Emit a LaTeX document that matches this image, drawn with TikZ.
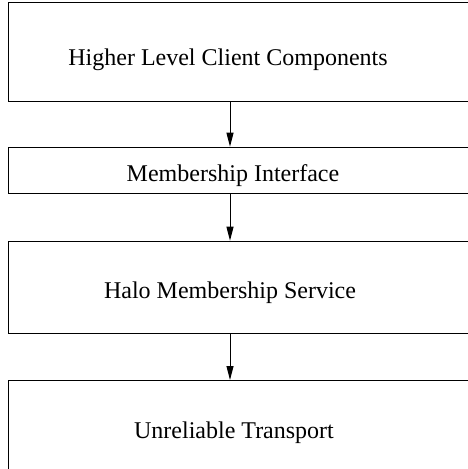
\documentclass[tikz,border=0pt]{standalone}
\usepackage{fontspec}
\setmainfont{Liberation Serif}
\usetikzlibrary{arrows.meta}
\begin{document}
\begin{tikzpicture}[x=1pt,y=-1pt,
    layer/.style={draw=black,line width=1pt,rectangle,inner sep=0pt,anchor=north west},
    lbl/.style={font=\fontsize{24}{28}\selectfont,anchor=base,inner sep=0pt},
    flow/.style={draw=black,line width=1pt,-{Triangle[length=14pt,width=7pt]}}]
  \useasboundingbox (0,0) rectangle (468,469);
  \clip (0,0) rectangle (468,469);
  % stacked layers (they run past the right and bottom edges)
  \node[layer,minimum width=520pt,minimum height=98.2pt] (b1) at (8.3,2.3) {};
  \node[layer,minimum width=520pt,minimum height=46.6pt] (b2) at (8.3,146.7) {};
  \node[layer,minimum width=520pt,minimum height=92.6pt] (b3) at (8.3,240.7) {};
  \node[layer,minimum width=520pt,minimum height=140pt] (b4) at (8.3,380) {};
  % layer labels
  \node[lbl] (t1) at (228,65.7) {Higher Level Client Components};
  \node[lbl] (t2) at (233,181.7) {Membership Interface};
  \node[lbl] (t3) at (230,298.3) {Halo Membership Service};
  \node[lbl] (t4) at (234,438.3) {Unreliable Transport};
  % downward calls between layers
  \coordinate (ax) at (230,0);
  \draw[flow] (b1.south -| ax) -- (b2.north -| ax);
  \draw[flow] (b2.south -| ax) -- (b3.north -| ax);
  \draw[flow] (b3.south -| ax) -- (b4.north -| ax);
\end{tikzpicture}
\end{document}
